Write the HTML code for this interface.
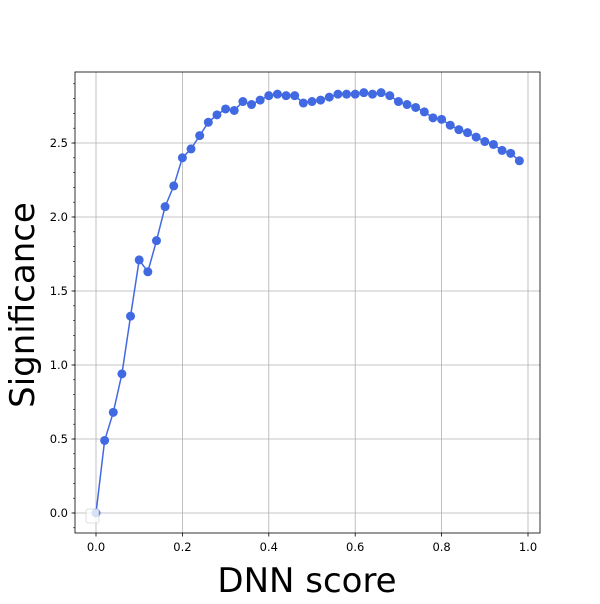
<!DOCTYPE html>
<html><head><meta charset="utf-8"><style>
body{margin:0;background:#fff;font-family:"DejaVu Sans","Liberation Sans",sans-serif}
</style></head><body>
<svg id="chart" width="600" height="600" xmlns="http://www.w3.org/2000/svg" font-family="DejaVu Sans, Liberation Sans, sans-serif"></svg>
<script>
const xValues=[0,0.02,0.04,0.06,0.08,0.10,0.12,0.14,0.16,0.18,0.20,0.22,0.24,0.26,0.28,0.30,0.32,0.34,0.36,0.38,0.40,0.42,0.44,0.46,0.48,0.50,0.52,0.54,0.56,0.58,0.60,0.62,0.64,0.66,0.68,0.70,0.72,0.74,0.76,0.78,0.80,0.82,0.84,0.86,0.88,0.90,0.92,0.94,0.96,0.98];
const significance=[0,0.49,0.68,0.94,1.33,1.71,1.63,1.84,2.07,2.21,2.40,2.46,2.55,2.64,2.69,2.73,2.72,2.78,2.76,2.79,2.82,2.83,2.82,2.82,2.77,2.78,2.79,2.81,2.83,2.83,2.83,2.84,2.83,2.84,2.82,2.78,2.76,2.74,2.71,2.67,2.66,2.62,2.59,2.57,2.54,2.51,2.49,2.45,2.43,2.38];
const xTicks=[0.0,0.2,0.4,0.6,0.8,1.0];
const xTickLabels=["0.0","0.2","0.4","0.6","0.8","1.0"];
const yTicks=[0.0,0.5,1.0,1.5,2.0,2.5];
const yTickLabels=["0.0","0.5","1.0","1.5","2.0","2.5"];

const svg=document.getElementById('chart');
const NS="http://www.w3.org/2000/svg";
const L=75,R=540,T=72,B=533;
const sx=v=>96+v*432;
const sy=v=>513-v*148;
function mk(tag,attrs,parent){const e=document.createElementNS(NS,tag);for(const k in attrs)e.setAttribute(k,attrs[k]);(parent||svg).appendChild(e);return e;}

const grid=mk('g',{});


xTicks.forEach((t,i)=>{
  mk('line',{x1:sx(t),x2:sx(t),y1:T,y2:B,stroke:'#b0b0b0','stroke-width':0.8},grid);
  mk('line',{x1:sx(t),x2:sx(t),y1:B,y2:B+3.5,stroke:'#000','stroke-width':0.8},grid);
  const tx=mk('text',{x:sx(t),y:B+18,'text-anchor':'middle','font-size':11.5},grid);
  
  
  tx.textContent=xTickLabels[i];
});
yTicks.forEach((t,i)=>{
  mk('line',{x1:L,x2:R,y1:sy(t),y2:sy(t),stroke:'#b0b0b0','stroke-width':0.8},grid);
  mk('line',{x1:L-3.5,x2:L,y1:sy(t),y2:sy(t),stroke:'#000','stroke-width':0.8},grid);
  const tx=mk('text',{x:L-7,y:sy(t)+4,'text-anchor':'end','font-size':11.5},grid);
  
  
  tx.textContent=yTickLabels[i];
});
for(let v=-0.1;v<2.95;v+=0.1){const y=sy(v);if(y>=T&&y<=B)mk('line',{x1:L-2,x2:L,y1:y,y2:y,stroke:'#000','stroke-width':0.6},grid);}

const line=mk('polyline',{points:xValues.map((x,i)=>sx(x)+','+sy(significance[i])).join(' '),fill:'none',stroke:'#4169e1','stroke-width':1.5});


xValues.forEach((x,i)=>{
  const c=mk('circle',{cx:sx(x),cy:sy(significance[i]),r:4.5,fill:'#4169e1'});
  
  
});
const frame=mk('rect',{x:L,y:T,width:R-L,height:B-T,fill:'none',stroke:'#000','stroke-width':0.8});


const leg=mk('rect',{x:86,y:509,width:13,height:14,rx:2,fill:'#fff',stroke:'#ccc','stroke-width':0.8,opacity:0.8});


const xl=mk('text',{x:307,y:592,'text-anchor':'middle','font-size':34});


xl.textContent='DNN score';
const yl=mk('text',{x:0,y:0,'text-anchor':'middle','font-size':34,transform:'translate(34,305) rotate(-90)'});


yl.textContent='Significance';
</script>
</body></html>
